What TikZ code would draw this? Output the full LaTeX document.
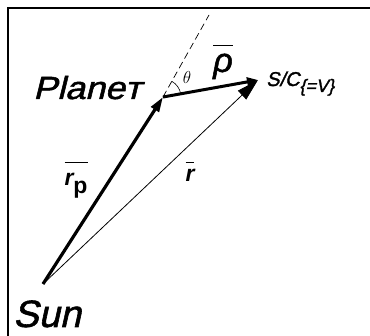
\documentclass[tikz,border=0pt]{standalone}
\usepackage{fontspec}
\setmainfont{Liberation Sans}
\newfontfamily\slantsans[FakeSlant=0.22,FakeBold=1.5]{Liberation Sans}
\newfontfamily\heavyital[FakeBold=1.5]{Liberation Sans Italic}
\usetikzlibrary{arrows.meta}
\begin{document}
\begin{tikzpicture}[x=1pt,y=-1pt,
  frame/.style={line width=2pt},
  heavyvec/.style={line width=3.2pt,-{Triangle[length=15pt,width=9pt]}},
  rhovec/.style={line width=3pt,-{Triangle[length=11pt,width=9pt]}},
  thinvec/.style={line width=0.8pt,-{Triangle[length=22pt,width=12pt]}},
  guide/.style={line width=0.7pt,dashed,dash pattern=on 7pt off 4pt},
  anglearc/.style={line width=0.6pt},
  lbl/.style={inner sep=0pt}]
\useasboundingbox (0,0) rectangle (370,336);
\draw[frame] (8,336) -- (8,8) -- (370,8);
\coordinate (sun) at (43,284);
\coordinate (planet) at (163,97);
\coordinate (sc) at (258,80);
\coordinate (dtop) at (209,15);
\draw[guide] (planet) -- (dtop);
\draw[heavyvec] (sun) -- (planet);
\draw[rhovec] (planet) -- (sc);
\draw[thinvec] (sun) -- (sc);
\draw[anglearc] (planet) ++(-10:18) arc[start angle=-10,end angle=-60,radius=18];
\node[lbl,anchor=base west] (planetlbl) at (33,99) {\fontsize{32}{32}\selectfont\slantsans\scalebox{1.12}[1]{Planeт}};
\node[lbl,anchor=base west] (sunlbl) at (13,327) {\fontsize{38}{38}\selectfont\slantsans Sun};
\node[lbl,anchor=base west] (sclbl) at (266,86) {\fontsize{20}{20}\selectfont\slantsans S/C\raisebox{-6pt}{\fontsize{18}{18}\selectfont\{=V\}}};
\node[lbl] (thetalbl) at (187,78) {\fontsize{17}{17}\selectfont$\theta$};
\node[lbl] (rholbl) at (223,62) {\fontsize{34}{34}\selectfont$\overline{\mbox{\rule{0pt}{25pt}\heavyital ρ}}$};
\node[lbl] (rplbl) at (76,180) {\fontsize{23}{23}\selectfont$\overline{\mbox{\rule{0pt}{22pt}\bfseries\itshape r\raisebox{-8pt}{\upshape p}}}$};
\node[lbl] (rlbl) at (190,172) {\fontsize{23}{23}\selectfont$\overline{\mbox{\rule{0pt}{18pt}\bfseries\itshape r}}$};
\end{tikzpicture}
\end{document}
